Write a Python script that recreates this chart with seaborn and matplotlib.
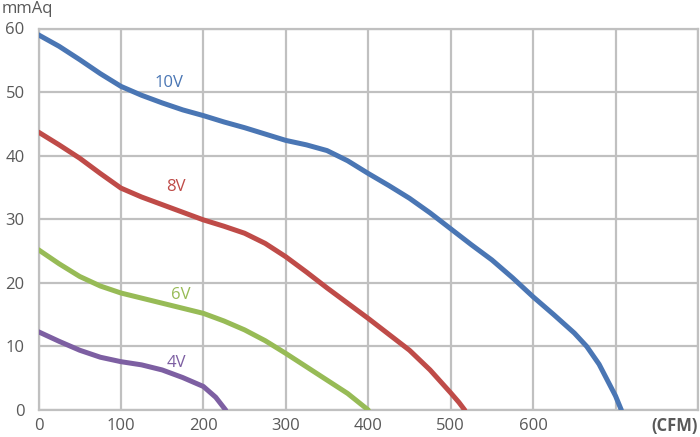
import matplotlib
matplotlib.use("Agg")
import matplotlib.pyplot as plt
import seaborn as sns
import pandas as pd

# Fan P-Q curves
cfm_10v = [0, 25, 50, 75, 100, 125, 150, 175, 200, 225, 250, 275, 300, 325, 350, 375,
           400, 425, 450, 475, 500, 525, 550, 575, 600, 625, 650, 665, 680, 690, 700, 707]
mmaq_10v = [59.0, 57.2, 55.1, 52.9, 50.9, 49.5, 48.3, 47.2, 46.3, 45.3, 44.4, 43.4, 42.4, 41.7, 40.8, 39.2,
            37.2, 35.3, 33.3, 31.0, 28.5, 26.0, 23.6, 20.8, 17.8, 15.0, 12.1, 10.0, 7.2, 4.7, 2.2, 0.0]

cfm_8v = [0, 25, 50, 75, 100, 125, 150, 175, 200, 225, 250, 275, 300, 325, 350, 375,
          400, 425, 450, 475, 500, 510, 517]
mmaq_8v = [43.7, 41.7, 39.6, 37.2, 34.9, 33.5, 32.3, 31.1, 29.9, 28.9, 27.8, 26.2, 24.1, 21.7, 19.2, 16.8,
           14.4, 11.9, 9.4, 6.3, 2.7, 1.2, 0.0]

cfm_6v = [0, 25, 50, 75, 100, 125, 150, 175, 200, 225, 250, 275, 300, 325, 350, 375, 400]
mmaq_6v = [25.2, 23.0, 21.0, 19.5, 18.4, 17.6, 16.8, 16.0, 15.2, 14.0, 12.6, 10.9, 8.9, 6.8, 4.7, 2.6, 0.0]

cfm_4v = [0, 25, 50, 75, 100, 125, 150, 175, 200, 215, 227]
mmaq_4v = [12.3, 10.8, 9.4, 8.3, 7.6, 7.1, 6.3, 5.1, 3.7, 2.0, 0.0]

voltages = ["10V", "8V", "6V", "4V"]
colors = ["#4a76b4", "#bf4b48", "#97bb56", "#7d5fa2"]
label_x = [158, 167, 172, 167]
label_y = [51.5, 35.1, 18.1, 7.4]

xticks = [0, 100, 200, 300, 400, 500, 600, 700, 800]
xtick_labels = ["0", "100", "200", "300", "400", "500", "600", "", ""]
yticks = [0, 10, 20, 30, 40, 50, 60]

frames = []
for v, xs, ys in zip(voltages,
                     [cfm_10v, cfm_8v, cfm_6v, cfm_4v],
                     [mmaq_10v, mmaq_8v, mmaq_6v, mmaq_4v]):
    frames.append(pd.DataFrame({"cfm": xs, "mmaq": ys, "voltage": v}))
df = pd.concat(frames, ignore_index=True)

sns.set_style("white")
plt.rcParams["font.family"] = ["Open Sans", "DejaVu Sans"]

fig = plt.figure(figsize=(7, 4.37), dpi=100)
ax = fig.add_axes([38.5 / 700, 1 - 410 / 437, (698 - 38.5) / 700, (410 - 28.5) / 437])

sns.lineplot(data=df, x="cfm", y="mmaq", hue="voltage", hue_order=voltages,
             palette=colors, linewidth=3.6, sort=False, legend=False, ax=ax,
             solid_capstyle="round", solid_joinstyle="round", zorder=3)

ax.set_xlim(0, 800)
ax.set_ylim(0, 60)
ax.set_xticks(xticks)
ax.set_xticklabels(xtick_labels)
ax.set_yticks(yticks)
ax.grid(True, color="#c0c0c0", linewidth=1.6)
ax.set_axisbelow(True)
for s in ax.spines.values():
    s.set_color("#c0c0c0")
    s.set_linewidth(1.6)
ax.tick_params(length=0, labelsize=12, colors="#595959")
ax.tick_params(axis="y", pad=10)
ax.tick_params(axis="x", pad=6)
ax.set_xlabel("")
ax.set_ylabel("")

for v, c, lx, ly in zip(voltages, colors, label_x, label_y):
    ax.text(lx, ly, v, color=c, fontsize=12, ha="center", va="center")

fig.text(2 / 700, 1 - 9 / 437, "mmAq", fontsize=12, color="#595959", ha="left", va="center")
fig.text(698 / 700, 1 - 426 / 437, "(CFM)", fontsize=12, color="#595959",
         fontweight="bold", ha="right", va="center")

fig.savefig("out.png", dpi=100)
